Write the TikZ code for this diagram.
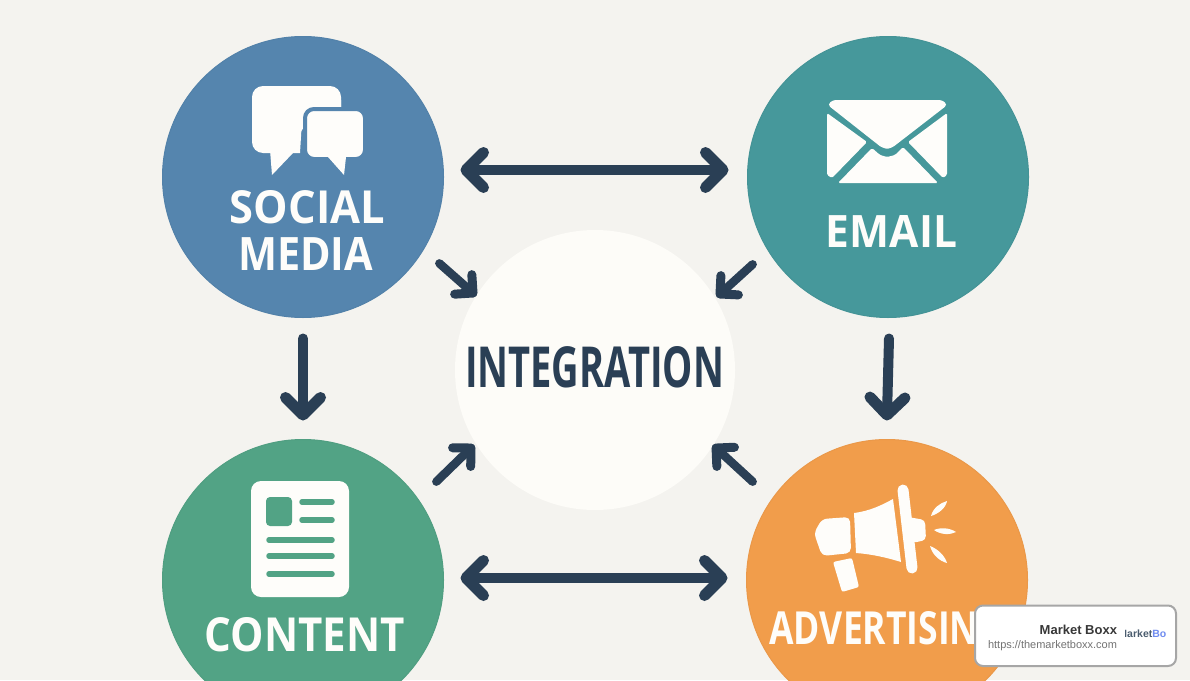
\documentclass[tikz,border=0pt]{standalone}
\usepackage{fontspec}
\usepackage{graphicx}
\setmainfont{Open Sans}
\newfontfamily\cardfont{Liberation Sans}
\usetikzlibrary{decorations.markings}
\definecolor{bgc}{HTML}{F4F3EF}
\definecolor{blueC}{HTML}{5585AE}
\definecolor{tealC}{HTML}{46989B}
\definecolor{greenC}{HTML}{52A385}
\definecolor{orangeC}{HTML}{F19D4B}
\definecolor{darkC}{HTML}{2A3F55}
\definecolor{paperC}{HTML}{FDFCF8}
\definecolor{iconC}{HTML}{FEFDFA}
\newcommand{\fitt}[3]{\resizebox{#1pt}{#2pt}{\bfseries #3}}
\tikzset{
  hub/.style={circle,inner sep=0pt,outer sep=0pt,minimum size=281pt,line width=1pt},
  lab/.style={inner sep=0pt,outer sep=0pt,text=iconC},
  chev/.style={draw=darkC,line cap=round,line join=round,fill=none},
  flow/.style={draw=darkC,line width=10pt,line cap=round,line join=round},
  endhead/.style={postaction={decorate,decoration={markings,mark=at position 1 with {\draw[chev,line width=11pt] (-17.5pt,17.5pt) -- (0pt,0pt) -- (-17.5pt,-17.5pt);}}}},
  starthead/.style={postaction={decorate,decoration={markings,mark=at position 0 with {\draw[chev,line width=11pt] (17.5pt,17.5pt) -- (0pt,0pt) -- (17.5pt,-17.5pt);}}}},
  bighead/.style={flow,endhead,starthead},
  downhead/.style={flow,endhead},
  diaghead/.style={draw=darkC,line width=8.5pt,line cap=round,postaction={decorate,decoration={markings,mark=at position 1 with {\draw[chev,line width=9pt] (-13pt,13pt) -- (0pt,0pt) -- (-13pt,-13pt);}}}},
  icon/.style={fill=iconC,draw=none,rounded corners=1.5pt},
  cardtext/.style={inner sep=0pt,outer sep=0pt,anchor=east},
}
\begin{document}
\begin{tikzpicture}[x=1pt,y=-1pt]
\useasboundingbox (0,0) rectangle (1190,680);
\fill[bgc] (0,0) rectangle (1190,680);
\begin{scope}
\clip (0,0) rectangle (1190,680);
\node[hub,fill=blueC,draw=blueC!97!black] (social) at (303,177) {};
\node[hub,fill=tealC,draw=tealC!97!black] (email) at (888,177) {};
\node[hub,fill=greenC,draw=greenC!97!black] (content) at (303,580) {};
\node[hub,fill=orangeC,draw=orangeC!97!black] (advert) at (887,580) {};
\node[circle,inner sep=0pt,outer sep=0pt,minimum size=280pt,fill=paperC] (integ) at (595,370) {};

% connectors
\draw[bighead] ([shift={(22.5,-7)}]social.east) -- ([shift={(-24.5,-7)}]email.west);
\draw[bighead] ([shift={(22.5,-2)}]content.east) -- ([shift={(-24.5,-2)}]advert.west);
\draw[downhead] ([shift={(0,21)}]social.south) -- ([shift={(0,-24.5)}]content.north);
\draw[downhead] ([shift={(1,21)}]email.south) -- ([shift={(0,-24.5)}]advert.north);
\draw[diaghead] ([shift={(37,-13)}]social.-45) -- ([shift={(-23,22)}]integ.135);
\draw[diaghead] ([shift={(-36,-12)}]email.-135) -- ([shift={(26,23)}]integ.45);
\draw[diaghead] ([shift={(34,1)}]content.45) -- ([shift={(-25,-21)}]integ.-135);
\draw[diaghead] ([shift={(-35,1)}]advert.135) -- ([shift={(22,-21)}]integ.-45);

% labels
\node[inner sep=0pt,outer sep=0pt,text=darkC] (tinteg) at (594.5,367.5) {\fitt{259}{41}{INTEGRATION}};
\node[lab] (tsocial) at (307.5,207.5) {\fitt{155}{33}{SOCIAL}};
\node[lab] (tmedia) at (305.5,253.5) {\fitt{135}{33}{MEDIA}};
\node[lab] (temail) at (891.5,231) {\fitt{131}{32}{EMAIL}};
\node[lab] (tcontent) at (305,635) {\fitt{200}{34}{CONTENT}};
\node[lab] (tadvert) at (887,628.5) {\fitt{235}{33}{ADVERTISING}};

% speech bubbles
\fill[iconC] (262,150) -- (270,150) -- (272,175) -- (293,153) -- (300,153) -- (302,120) -- (341,120) -- (341,100) -- (300,100) -- cycle;
\fill[iconC,rounded corners=11pt] (252,86) -- (341,86) -- (341,125) -- (300,125) -- (300,153) -- (252,153) -- cycle;
\fill[iconC,draw=blueC,line width=4pt,rounded corners=9pt] (305,109) -- (365,109) -- (365,159) -- (305,159) -- cycle;
\fill[iconC] (328,157) -- (344,175) -- (346,157) -- cycle;

% envelope
\fill[icon] (829,103) -- (834,100) -- (941,100) -- (946,103) -- (946,106) -- (893,147) -- (887,149) -- (881,147) -- (829,106) -- cycle;
\fill[icon] (827,113) -- (867,142) -- (832,178) -- (827,175) -- cycle;
\fill[icon] (947,113) -- (908,142) -- (943,178) -- (947,175) -- cycle;
\fill[icon] (838,183) -- (872,148) -- (880,155) -- (887,157) -- (895,155) -- (903,147) -- (938,183) -- cycle;

% document
\fill[iconC,rounded corners=10pt] (251,481) rectangle (349,597);
\fill[greenC,rounded corners=4pt] (266,497) rectangle (292,526);
\foreach \xa/\ya/\xb in {302/502/332,302/520/332,269/540/332,269/556/332,269/574/332}
  \draw[greenC,line width=5.5pt,line cap=round] (\xa,\ya) -- (\xb,\ya);

% megaphone
\fill[iconC,rounded corners=5pt] (850,517) -- (851,553) -- (822,556) -- (814,533) -- (822,519) -- cycle;
\fill[iconC] (854,513) .. controls (870,511) and (882,505) .. (893,499) -- (901,562) .. controls (885,557) and (870,554) .. (856,553) -- cycle;
\fill[iconC,rounded corners=2pt] (833,562) -- (852,558) -- (859,587) -- (842,592) -- cycle;
\draw[iconC,line width=11pt,line cap=round] (903,490) -- (912,568);
\fill[iconC,rounded corners=4pt] (908,517) -- (925,520) -- (926,540) -- (912,543) -- cycle;
\fill[iconC] (931,516) .. controls (933,508) and (940,503) .. (947,501) .. controls (946,508) and (938,514) .. (931,516) -- cycle;
\fill[iconC] (934,530) .. controls (941,527) and (950,528) .. (956,532) .. controls (950,535) and (941,535) .. (934,530) -- cycle;
\fill[iconC] (930,546) .. controls (938,549) and (945,556) .. (947,563) .. controls (939,561) and (932,554) .. (930,546) -- cycle;

% card
\draw[draw=black!35,fill=white,line width=2pt,rounded corners=8pt] (975,605.5) rectangle (1176,666) ;
\node[cardtext,text=black!78,font=\cardfont\bfseries\fontsize{13}{15}\selectfont] (cardname) at (1117,630) {Market Boxx};
\node[cardtext,text=black!55,font=\cardfont\fontsize{11}{13}\selectfont] (cardurl) at (1117,645.5) {https://themarketboxx.com};
\begin{scope}
\clip (1125,625) rectangle (1165,642);
\node[inner sep=0pt,outer sep=0pt,anchor=east,font=\cardfont\bfseries\fontsize{10.5}{12}\selectfont] (cardlogo) at (1178,634) {\textcolor{darkC!85}{Market}\textcolor[HTML]{6F8CF0}{Boxx}};
\end{scope}
\end{scope}
\end{tikzpicture}
\end{document}
